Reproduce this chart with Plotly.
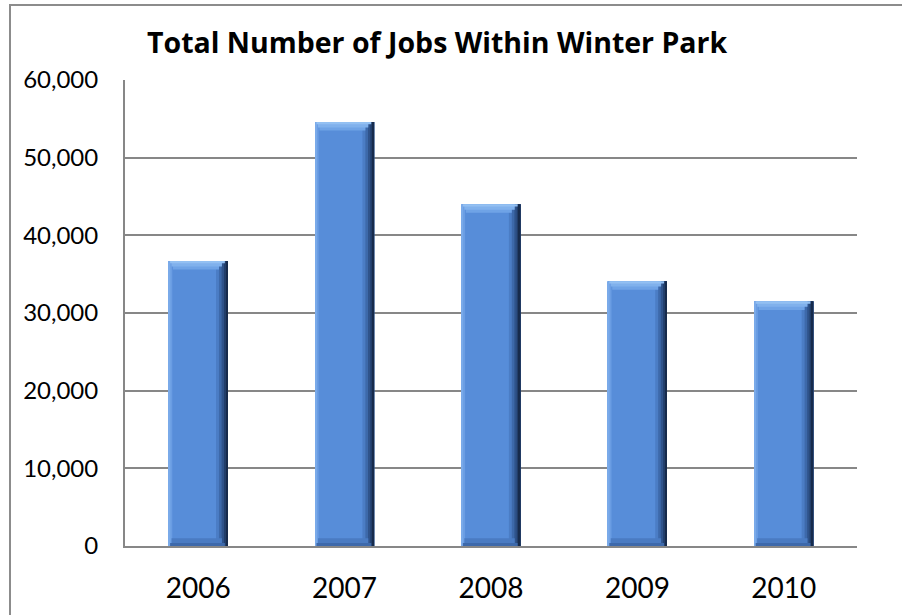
import plotly.graph_objects as go

# Jobs within Winter Park by year
years = ["2006", "2007", "2008", "2009", "2010"]
jobs = [36700, 54600, 44000, 34100, 31500]
y_ticks = [0, 10000, 20000, 30000, 40000, 50000, 60000]
y_tick_text = ["0", "10,000", "20,000", "30,000", "40,000", "50,000", "60,000"]

W, H = 902, 615
ML, MR, MT, MB = 125, 45, 80, 69
FONT = "Lato, 'Open Sans', sans-serif"
TITLE_FONT = "'Open Sans', Lato, sans-serif"

xi = list(range(len(years)))
BW = 0.404  # bar width in category units
half = BW / 2

fig = go.Figure()

def layer(width, offset, color, base=None, y=None):
    fig.add_trace(go.Bar(
        x=xi, y=y if y is not None else jobs, base=base,
        width=width, offset=offset,
        marker=dict(color=color, line=dict(width=0)),
        hoverinfo="skip", showlegend=False,
    ))

# main face
layer(BW, -half, "#578dd9")
# left highlight strips
layer(0.025, -half, "#6a9de3")
layer(0.012, -half, "#7aaae9")
# right shaded strips (gradient toward navy edge)
layer(0.08, half - 0.08, "#4b7dc5")
layer(0.06, half - 0.06, "#3d69aa")
layer(0.042, half - 0.042, "#2f538b")
layer(0.026, half - 0.026, "#223e6a")
layer(0.012, half - 0.012, "#172b4c")
# top bevel (lighter), drawn from each bar's value downward
layer(BW - 0.09, -half + 0.03, "#6fa3e6", base=[v - 1100 for v in jobs], y=[1100] * len(jobs))
layer(BW - 0.06, -half + 0.02, "#80b1ec", base=[v - 700 for v in jobs], y=[700] * len(jobs))
layer(BW - 0.03, -half + 0.01, "#93c0f2", base=[v - 300 for v in jobs], y=[300] * len(jobs))
# bottom bevel (darker)
layer(BW - 0.06, -half + 0.02, "#4a7bc2", base=[0] * len(jobs), y=[1000] * len(jobs))
layer(BW - 0.03, -half + 0.01, "#3d69ab", base=[0] * len(jobs), y=[400] * len(jobs))

fig.update_layout(
    width=W, height=H,
    margin=dict(l=ML, r=MR, t=MT, b=MB),
    paper_bgcolor="white", plot_bgcolor="white",
    barmode="overlay",
    font=dict(family=FONT, color="#000000"),
    title=dict(
        text="<b>Total Number of Jobs Within Winter Park</b>",
        font=dict(family=TITLE_FONT, size=28.5, color="#000000"),
        x=147 / W, xanchor="left", xref="container",
        y=1 - 43 / H, yanchor="middle", yref="container",
    ),
    xaxis=dict(
        tickmode="array", tickvals=xi, ticktext=years,
        range=[-0.5, len(years) - 0.5],
        showgrid=False, zeroline=False,
        showline=True, linecolor="#878787", linewidth=2,
        ticks="", tickfont=dict(family=FONT, size=28, color="#000000"),
        ticklabelstandoff=16,
    ),
    yaxis=dict(
        range=[0, 60000],
        tickmode="array", tickvals=y_ticks, ticktext=y_tick_text,
        showgrid=True, gridcolor="#878787", gridwidth=1.5,
        zeroline=False,
        showline=True, linecolor="#878787", linewidth=2,
        ticks="", tickfont=dict(family=FONT, size=24, color="#000000"),
        ticklabelstandoff=20,
    ),
    shapes=[
        dict(type="rect", xref="paper", yref="paper",
             x0=(10 - ML) / (W - ML - MR), x1=(910 - ML) / (W - ML - MR),
             y0=(H - MB - 625) / (H - MT - MB), y1=(H - MB - 5) / (H - MT - MB),
             line=dict(color="#8c8c8c", width=2), fillcolor="rgba(0,0,0,0)",
             layer="below"),
    ],
)

fig.write_html("out.html")
